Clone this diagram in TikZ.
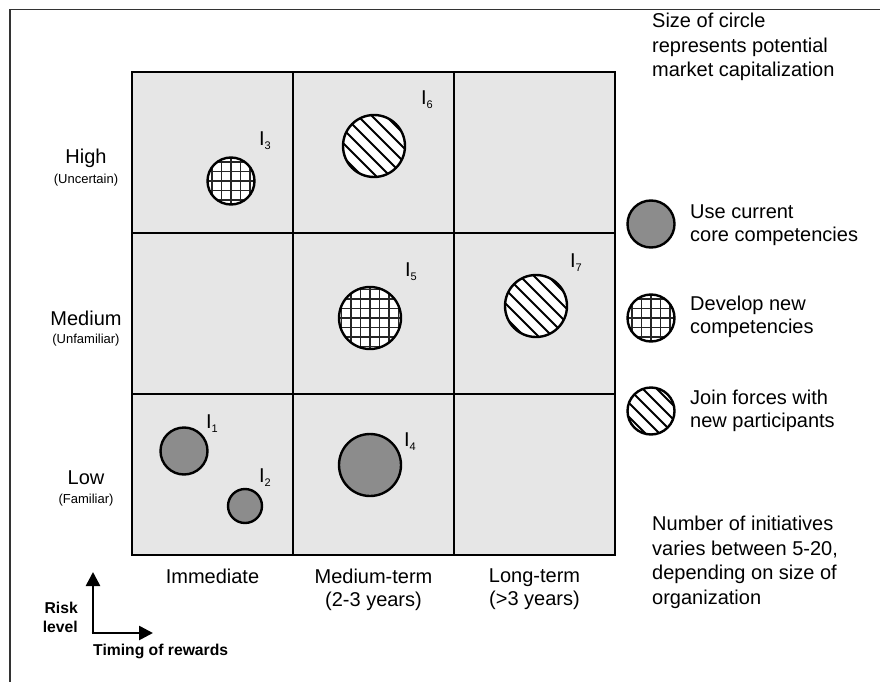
\documentclass[tikz,border=0pt]{standalone}
\usepackage{fontspec}
\setmainfont{Liberation Sans}
\usetikzlibrary{arrows.meta}

\definecolor{cellgray}{HTML}{E6E6E6}
\definecolor{coregray}{HTML}{8C8C8C}
\definecolor{framegray}{HTML}{333333}

\tikzset{
  cell/.style={draw, line width=2.6pt, fill=cellgray, minimum width=161pt,
    minimum height=161pt, inner sep=0pt},
  bubble/.style={circle, draw, line width=2.4pt, inner sep=0pt, minimum size=#1},
  core/.style={bubble=#1, fill=coregray},
  newcomp/.style={bubble=#1, fill=white, path picture={
      \foreach \k in {-47.5,-38,...,47.5}{
        \draw[line width=1.2pt, black!85]
          ([xshift=\k pt]path picture bounding box.center) ++(0pt,-50pt) -- ++(0pt,100pt);
        \draw[line width=1.2pt, black!85]
          ([yshift=\k pt]path picture bounding box.center) ++(-50pt,0pt) -- ++(100pt,0pt);
      }}},
  joint/.style={bubble=#1, fill=white, path picture={
      \foreach \k in {-84,-70,...,84}{
        \draw[line width=1.8pt]
          ([xshift=\k pt]path picture bounding box.center) ++(-50pt,50pt) -- ++(100pt,-100pt);
      }}},
  big/.style={font=\fontsize{20pt}{23pt}\selectfont, inner sep=0pt},
  note/.style={font=\fontsize{20pt}{24.5pt}\selectfont, inner sep=0pt, align=left, anchor=base west},
  legend/.style={font=\fontsize{20pt}{23pt}\selectfont, inner sep=0pt, align=left, anchor=west},
  small/.style={font=\fontsize{13pt}{15pt}\selectfont, inner sep=0pt},
  axislabel/.style={font=\fontsize{15.7pt}{19pt}\bfseries\selectfont, inner sep=0pt},
  axis/.style={line width=2.6pt, -{Triangle[width=14pt,length=14pt]}},
  frame/.style={framegray, line width=1.3pt},
}

\newcommand{\initlabel}[1]{I\raisebox{-4pt}{\fontsize{11pt}{11pt}\selectfont #1}}

\begin{document}
\begin{tikzpicture}[x=1pt, y=-1pt]
  \useasboundingbox (0,0) rectangle (880,682);

  % page frame: top and left rules
  \coordinate (ftr) at (880,9.5);
  \coordinate (ftl) at (10,9.5);
  \coordinate (fbl) at (10,682);
  \draw[frame] (ftr) -- (ftl) -- (fbl);

  % 3x3 matrix of cells
  \foreach \c/\x in {1/212.5, 2/373.5, 3/534.5}{
    \foreach \r/\y in {1/152.5, 2/313.5, 3/474.5}{
      \node[cell] (cell\r\c) at (\x,\y) {};
    }
  }

  % initiatives
  \node[core=47pt]    (i1) at (184,451) {};
  \node[core=34pt]    (i2) at (245,506) {};
  \node[newcomp=47pt] (i3) at (231,181) {};
  \node[core=62pt]    (i4) at (370,465) {};
  \node[newcomp=62pt] (i5) at (370,318) {};
  \node[joint=62pt]   (i6) at (374,146) {};
  \node[joint=62pt]   (i7) at (536,306) {};

  \node[big] (t1) at (212,424) {\initlabel{1}};
  \node[big] (t2) at (265,478) {\initlabel{2}};
  \node[big] (t3) at (265,141) {\initlabel{3}};
  \node[big] (t4) at (410,442) {\initlabel{4}};
  \node[big] (t5) at (411,272) {\initlabel{5}};
  \node[big] (t6) at (427,100) {\initlabel{6}};
  \node[big] (t7) at (576,263) {\initlabel{7}};

  % row labels (risk level)
  \node[big]   (rh)  at (86,158) {High};
  \node[small] (rhs) at (86,180) {(Uncertain)};
  \node[big]   (rm)  at (86,318) {Medium};
  \node[small] (rms) at (86,340) {(Unfamiliar)};
  \node[big]   (rl)  at (86,478) {Low};
  \node[small] (rls) at (86,500) {(Familiar)};

  % column labels (timing of rewards)
  \node[big, align=center, anchor=north] (ca) at (212.5,569) {Immediate};
  \node[big, align=center, anchor=north] (cb) at (373.5,569) {Medium-term\\(2-3 years)};
  \node[big, align=center, anchor=north] (cc) at (534.5,569) {Long-term\\(>3 years)};

  % axes
  \coordinate (origin) at (93,633);
  \coordinate (yend) at (93,572);
  \coordinate (xend) at (153,633);
  \draw[axis] (origin) -- (yend);
  \draw[axis] ([xshift=-1.3pt]origin) -- (xend);
  \node[axislabel, align=right, anchor=east] (risk) at (78,617) {Risk\\level};
  \node[axislabel, anchor=west] (timing) at (93,651) {Timing of rewards};

  % legend
  \node[core=47pt]    (lg1) at (651,224) {};
  \node[newcomp=47pt] (lg2) at (651,318) {};
  \node[joint=47pt]   (lg3) at (651,411) {};
  \node[legend] (lt1) at (690,225) {Use current\\core competencies};
  \node[legend] (lt2) at (690,317) {Develop new\\competencies};
  \node[legend] (lt3) at (690,411) {Join forces with\\new participants};

  % notes (anchored on the baseline of their last line)
  \node[note] (ntop) at (652,77) {Size of circle\\represents potential\\market capitalization};
  \node[note] (nbot) at (652,604) {Number of initiatives\\varies between 5-20,\\depending on size of\\organization};
\end{tikzpicture}
\end{document}
